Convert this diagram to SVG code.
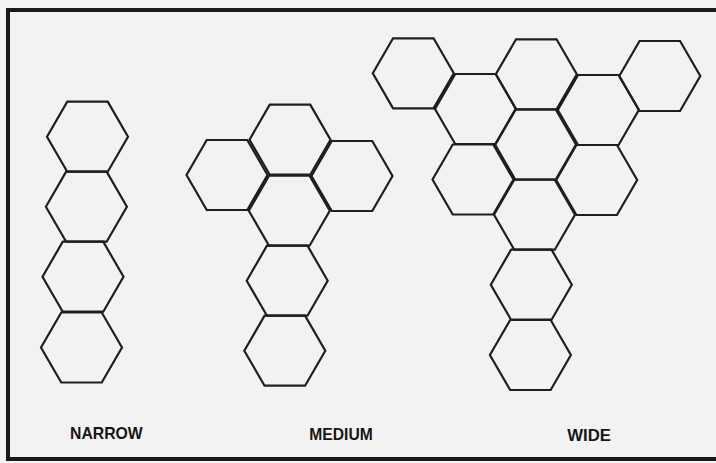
<svg xmlns="http://www.w3.org/2000/svg" xmlns:xlink="http://www.w3.org/1999/xlink" width="716" height="463" viewBox="0 0 716 463">
<style>
.hex{fill:none;stroke:#1e1e1e;stroke-width:2.2;stroke-linejoin:miter}
.lbl{font-family:"Liberation Sans",Arial,sans-serif;font-weight:bold;font-size:16.5px;fill:#161616}
</style>
<defs>
<path id="h" class="hex" d="M-40.5,0 L-20.25,-35 L20.25,-35 L40.5,0 L20.25,35 L-20.25,35 Z"/>
</defs>
<rect x="0" y="0" width="716" height="463" fill="#f3f3f3"/>
<rect id="frame" x="8" y="10" width="710" height="449" fill="#f2f2f2" stroke="#1a1a1a" stroke-width="4"/>
<g id="narrow">
<use xlink:href="#h" x="87.5" y="136.7"/>
<use xlink:href="#h" x="86.4" y="206.7"/>
<use xlink:href="#h" x="83" y="276.7"/>
<use xlink:href="#h" x="81.5" y="347.5"/>
<text class="lbl" x="70" y="439.3" textLength="72.7" lengthAdjust="spacingAndGlyphs">NARROW</text>
</g>
<g id="medium">
<use xlink:href="#h" x="290" y="139.7"/>
<use xlink:href="#h" x="227" y="175"/>
<use xlink:href="#h" x="352" y="176"/>
<use xlink:href="#h" x="289.3" y="210.7"/>
<use xlink:href="#h" x="287.2" y="280.7"/>
<use xlink:href="#h" x="284.8" y="350.7"/>
<text class="lbl" x="309.3" y="440" textLength="63.4" lengthAdjust="spacingAndGlyphs">MEDIUM</text>
</g>
<g id="wide">
<use xlink:href="#h" x="413.3" y="73.3"/>
<use xlink:href="#h" x="536.3" y="74.3"/>
<use xlink:href="#h" x="659.8" y="76"/>
<use xlink:href="#h" x="475.5" y="109"/>
<use xlink:href="#h" x="598.3" y="110"/>
<use xlink:href="#h" x="535.5" y="144.5"/>
<use xlink:href="#h" x="473" y="179.5"/>
<use xlink:href="#h" x="596.7" y="180"/>
<use xlink:href="#h" x="534.5" y="214.7"/>
<use xlink:href="#h" x="531.3" y="284.7"/>
<use xlink:href="#h" x="530.4" y="355"/>
<text class="lbl" x="567.3" y="440.7" textLength="43.7" lengthAdjust="spacingAndGlyphs">WIDE</text>
</g>
<g id="connectors"/>
</svg>
